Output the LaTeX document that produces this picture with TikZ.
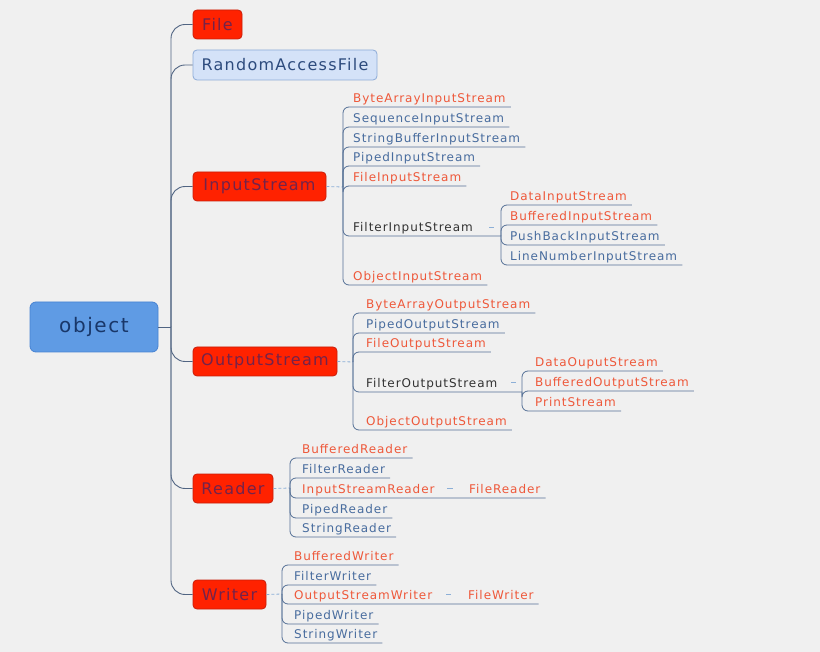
\documentclass[tikz,border=0pt]{standalone}
\usepackage{fontspec}
\newfontfamily\vfont[LetterSpace=8]{DejaVu Sans}
\definecolor{bg}{RGB}{240,240,240}
\definecolor{boxred}{RGB}{255,34,0}
\definecolor{boxredline}{RGB}{200,30,10}
\definecolor{boxtext}{RGB}{115,35,75}
\definecolor{objfill}{RGB}{95,155,228}
\definecolor{objline}{RGB}{70,130,210}
\definecolor{objtext}{RGB}{25,55,105}
\definecolor{raffill}{RGB}{212,226,248}
\definecolor{rafline}{RGB}{140,170,215}
\definecolor{raftext}{RGB}{45,75,125}
\definecolor{leaforange}{RGB}{238,88,58}
\definecolor{leafblue}{RGB}{72,108,158}
\definecolor{leafdark}{RGB}{50,50,50}
\definecolor{linecol}{RGB}{85,112,150}
\definecolor{trunkcol}{RGB}{80,100,130}
\definecolor{dashcol}{RGB}{140,175,215}
\tikzset{
 box/.style={draw, rounded corners=4pt, line width=0.8pt, inner sep=0pt, minimum height=29pt, font=\vfont\fontsize{16}{18}\selectfont},
 redbox/.style={box, fill=boxred, draw=boxredline, text=boxtext},
 leaf/.style={anchor=south west, inner xsep=5pt, inner ysep=4pt, text height=8.8pt, text depth=0pt, font=\vfont\fontsize{12}{14}\selectfont},
 lo/.style={leaf, text=leaforange},
 lb/.style={leaf, text=leafblue},
 ld/.style={leaf, text=leafdark},
 conn/.style={draw=linecol, line width=0.8pt, rounded corners=6pt},
 trunk/.style={draw=trunkcol, line width=0.9pt, rounded corners=14pt},
 dashc/.style={draw=dashcol, line width=0.8pt, dash pattern=on 3pt off 2pt},
 marker/.style={draw=dashcol, line width=0.8pt},
}
\begin{document}
\begin{tikzpicture}[x=1pt,y=-1pt]
\fill[bg] (0,0) rectangle (820,652);
\useasboundingbox (0,0) rectangle (820,652);

% main nodes
\node[box, fill=objfill, draw=objline, text=objtext, minimum width=128pt, minimum height=50pt, rounded corners=6pt, font=\vfont\fontsize{20}{24}\selectfont] (obj) at (94,327) {object};
\node[redbox, minimum width=49pt] (file) at (217.5,24.5) {File};
\node[box, fill=raffill, draw=rafline, text=raftext, minimum width=184pt, minimum height=30pt] (raf) at (285,65) {RandomAccessFile};
\node[redbox, minimum width=133pt] (is) at (259.5,186.5) {InputStream};
\node[redbox, minimum width=144pt] (os) at (265,361.5) {OutputStream};
\node[redbox, minimum width=80pt] (rd) at (233,488.5) {Reader};
\node[redbox, minimum width=73pt] (wr) at (229.5,594.5) {Writer};

% trunk
\coordinate (tr) at (171,327);
\draw[draw=trunkcol, line width=0.9pt] (obj.east) -- (tr);
\foreach \n in {file,raf,is,os,rd,wr}{ \path[trunk] (tr) |- (\n.west); }

% InputStream children
\coordinate (isB) at (343,187);
\path[dashc] (is.east) -- (isB);
\node[lo] (is1) at (348,107) {ByteArrayInputStream};
\node[lb] (is2) at (348,127) {SequenceInputStream};
\node[lb] (is3) at (348,147) {StringBufferInputStream};
\node[lb] (is4) at (348,166) {PipedInputStream};
\node[lo] (is5) at (348,186) {FileInputStream};
\node[ld] (fis) at (348,236) {FilterInputStream};
\node[lo] (is7) at (348,285) {ObjectInputStream};
\foreach \n in {is1,is2,is3,is4,is5,is7}{ \path[conn] (isB) |- (\n.south east); }
\coordinate (fisB) at (501,236);
\path[conn] (isB) |- (fisB);
\coordinate (fisM1) at (489,227); \coordinate (fisM2) at (494,227);
\path[marker] (fisM1) -- (fisM2);

% FilterInputStream children
\node[lo] (f1) at (505,205) {DataInputStream};
\node[lo] (f2) at (505,225) {BufferedInputStream};
\node[lb] (f3) at (505,245) {PushBackInputStream};
\node[lb] (f4) at (505,265) {LineNumberInputStream};
\foreach \n in {f1,f2,f3,f4}{ \path[conn] (fisB) |- (\n.south east); }

% OutputStream children
\coordinate (osB) at (353,362);
\path[dashc] (os.east) -- (osB);
\node[lo] (os1) at (361,313) {ByteArrayOutputStream};
\node[lb] (os2) at (361,333) {PipedOutputStream};
\node[lo] (os3) at (361,352) {FileOutputStream};
\node[ld] (fos) at (361,392) {FilterOutputStream};
\node[lo] (os5) at (361,430) {ObjectOutputStream};
\foreach \n in {os1,os2,os3,os5}{ \path[conn] (osB) |- (\n.south east); }
\coordinate (fosB) at (522,392);
\path[conn] (osB) |- (fosB);
\coordinate (fosM1) at (511,382); \coordinate (fosM2) at (516,382);
\path[marker] (fosM1) -- (fosM2);

% FilterOutputStream children
\node[lo] (g1) at (530,371) {DataOuputStream};
\node[lo] (g2) at (530,391) {BufferedOutputStream};
\node[lo] (g3) at (530,411) {PrintStream};
\foreach \n in {g1,g2,g3}{ \path[conn] (fosB) |- (\n.south east); }

% Reader children
\coordinate (rdB) at (290,488);
\path[dashc] (rd.east) -- (rdB);
\node[lo] (r1) at (297,458) {BufferedReader};
\node[lb] (r2) at (297,478) {FilterReader};
\node[lo] (r3) at (297,498) {InputStreamReader};
\node[lb] (r4) at (297,518) {PipedReader};
\node[lb] (r5) at (297,537) {StringReader};
\node[lo] (r6) at (464,498) {FileReader};
\foreach \n in {r1,r2,r4,r5}{ \path[conn] (rdB) |- (\n.south east); }
\path[conn] (rdB) |- (r3.south east) -- (r6.south east);
\coordinate (rM1) at (447,488); \coordinate (rM2) at (453,488);
\path[marker] (rM1) -- (rM2);

% Writer children
\coordinate (wrB) at (282,594);
\path[dashc] (wr.east) -- (wrB);
\node[lo] (w1) at (289,565) {BufferedWriter};
\node[lb] (w2) at (289,585) {FilterWriter};
\node[lo] (w3) at (289,604) {OutputStreamWriter};
\node[lb] (w4) at (289,624) {PipedWriter};
\node[lb] (w5) at (289,643) {StringWriter};
\node[lo] (w6) at (463,604) {FileWriter};
\foreach \n in {w1,w2,w4,w5}{ \path[conn] (wrB) |- (\n.south east); }
\path[conn] (wrB) |- (w3.south east) -- (w6.south east);
\coordinate (wM1) at (446,594); \coordinate (wM2) at (451,594);
\path[marker] (wM1) -- (wM2);
\end{tikzpicture}
\end{document}
